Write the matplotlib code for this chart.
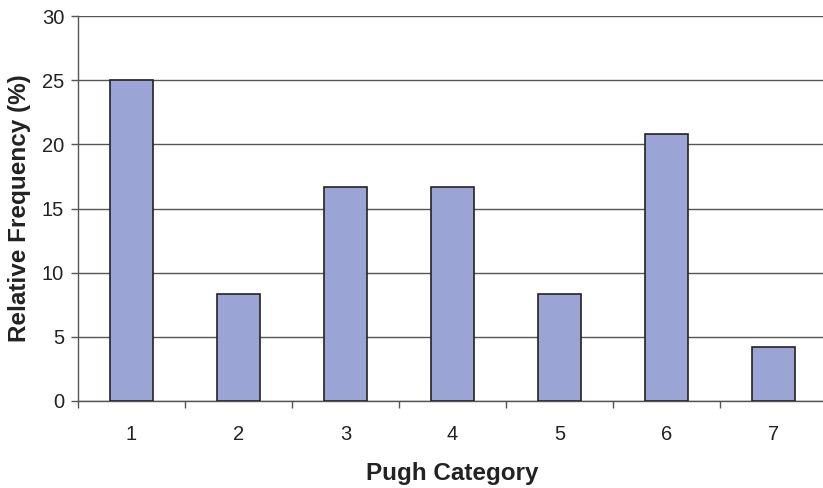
import matplotlib.pyplot as plt

categories = [1, 2, 3, 4, 5, 6, 7]
frequency = [25.0, 8.33, 16.67, 16.67, 8.33, 20.83, 4.17]
y_ticks = [0, 5, 10, 15, 20, 25, 30]

plt.rcParams['font.family'] = ['Liberation Sans', 'DejaVu Sans']

fig = plt.figure(figsize=(8.23, 4.88), dpi=100)
ax = fig.add_axes([78 / 823, 1 - 401 / 488, 749 / 823, 385 / 488])

ax.bar(categories, frequency, width=0.4, color='#9BA5D5', edgecolor='#222222',
       linewidth=1.2, zorder=3)

ax.set_xlim(0.5, 7.5)
ax.set_ylim(0, 30)
ax.set_yticks(y_ticks)
ax.yaxis.grid(True, color='#555555', linewidth=1.0, zorder=0)

# major ticks under the labels hidden, minor ticks at category boundaries
ax.set_xticks(categories)
ax.set_xticks([c + 0.5 for c in [0] + categories], minor=True)
ax.tick_params(axis='x', which='major', length=0, pad=17, labelsize=14.5, colors='#222222')
ax.tick_params(axis='x', which='minor', length=5, width=1.0, color='#555555')
ax.tick_params(axis='y', length=5, width=1.0, color='#555555', labelsize=14.5,
               labelcolor='#222222', pad=5)

for s in ['top', 'right']:
    ax.spines[s].set_visible(False)
for s in ['left', 'bottom']:
    ax.spines[s].set_color('#555555')
    ax.spines[s].set_linewidth(1.0)

ax.set_xlabel('Pugh Category', fontsize=17.5, fontweight='bold', labelpad=13,
              color='#222222')
ax.set_ylabel('Relative Frequency (%)', fontsize=17.5, fontweight='bold', labelpad=8,
              color='#222222')

fig.savefig('out.png', dpi=100)
